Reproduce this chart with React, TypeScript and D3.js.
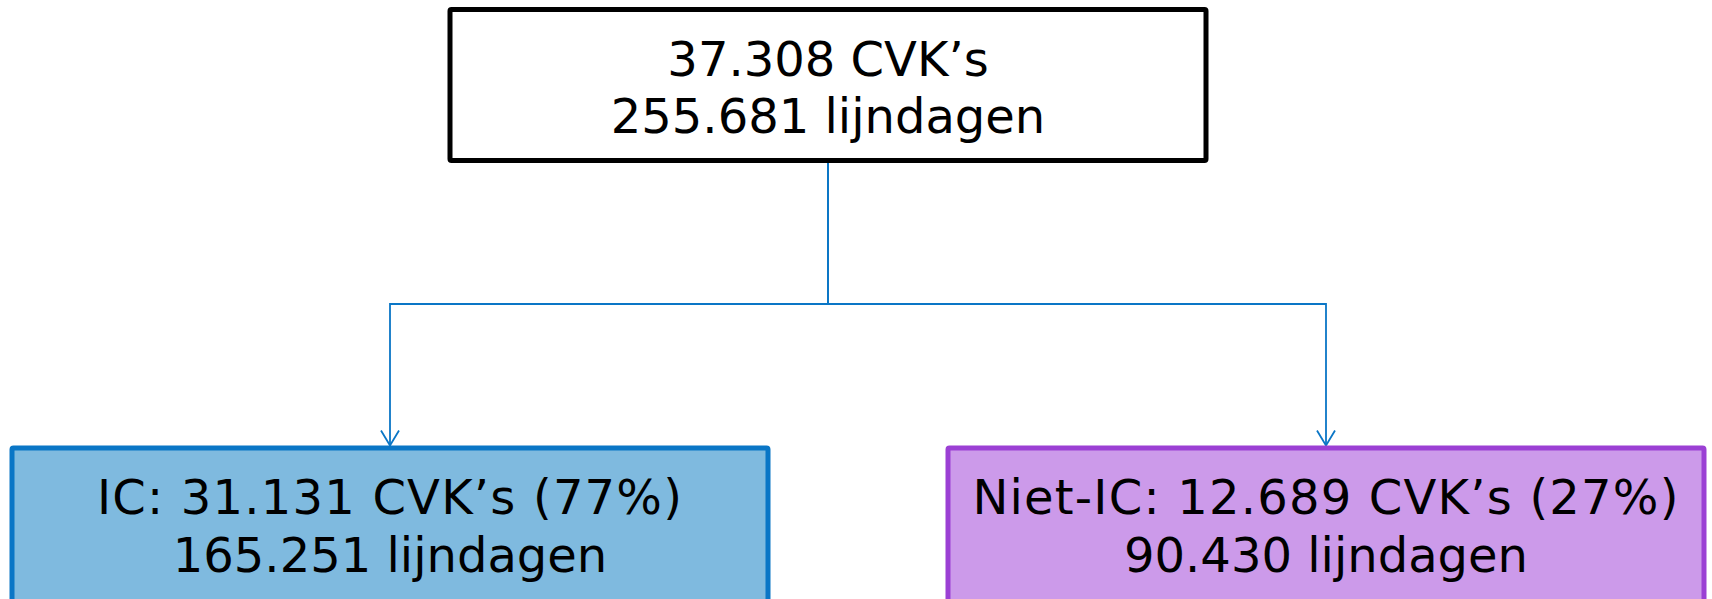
import { useEffect, useRef } from "react";
import * as d3 from "d3";

// node data
const nodeIds = ["totaal", "IC", "Niet-IC"];
const nodePrefixes = ["", "IC: ", "Niet-IC: "];
const cvkCounts = [37308, 31131, 12689];
const lineDays = [255681, 165251, 90430];
const percents = [null, 77, 27];
const parents = [null, "totaal", "totaal"];

const nl = d3.formatLocale({
  decimal: ",",
  thousands: ".",
  grouping: [3],
  currency: ["€", ""],
});
const fmt = nl.format(",d");

interface NodeDatum {
  id: string;
  parent: string | null;
  line1: string;
  line2: string;
}

const nodes: NodeDatum[] = nodeIds.map((id, i) => ({
  id,
  parent: parents[i],
  line1:
    `${nodePrefixes[i]}${fmt(cvkCounts[i])} CVK\u2019s` +
    (percents[i] != null ? ` (${percents[i]}%)` : ""),
  line2: `${fmt(lineDays[i])} lijndagen`,
}));

const styles: Record<string, { fill: string; stroke: string }> = {
  totaal: { fill: "#ffffff", stroke: "#000000" },
  IC: { fill: "#7fbadf", stroke: "#0a76c6" },
  "Niet-IC": { fill: "#cc9aea", stroke: "#9b40d4" },
};

const App = () => {
  const svgRef = useRef<SVGSVGElement | null>(null);

  useEffect(() => {
    if (!svgRef.current) return;
    const svg = d3.select(svgRef.current);
    svg.selectAll("*").remove();

    const width = 1712;
    const height = 599;
    const boxW = 756;
    const rootTop = 9.5;
    const rootH = 151;
    const childTop = 448;
    const childH = 200;
    const elbowY = 304;

    const root = d3
      .stratify<NodeDatum>()
      .id((d) => d.id)
      .parentId((d) => d.parent)(nodes);

    const children = root.children ?? [];
    const xChild = d3
      .scalePoint<string>()
      .domain(children.map((c) => c.id as string))
      .range([390, 1326]);
    const rootX = 828;

    const cx = (n: d3.HierarchyNode<NodeDatum>) =>
      n.depth === 0 ? rootX : (xChild(n.id as string) ?? 0);
    const top = (n: d3.HierarchyNode<NodeDatum>) =>
      n.depth === 0 ? rootTop : childTop;
    const h = (n: d3.HierarchyNode<NodeDatum>) =>
      n.depth === 0 ? rootH : childH;

    // connectors
    const links = svg.append("g").attr("fill", "none").attr("stroke", "#0a76c6");
    root.links().forEach((l) => {
      const sx = cx(l.source);
      const tx = cx(l.target);
      const ty = top(l.target) - 2.5;
      const path = d3.path();
      path.moveTo(sx, top(l.source) + h(l.source));
      path.lineTo(sx, elbowY);
      path.lineTo(tx, elbowY);
      path.lineTo(tx, ty);
      links.append("path").attr("d", path.toString()).attr("stroke-width", 1.8);
      links
        .append("path")
        .attr("d", `M${tx - 9},${ty - 15}L${tx},${ty}L${tx + 9},${ty - 15}`)
        .attr("stroke-width", 1.8);
    });

    // boxes
    const g = svg
      .selectAll("g.node")
      .data(root.descendants())
      .enter()
      .append("g")
      .attr("class", "node");

    g.append("rect")
      .attr("x", (d) => cx(d) - boxW / 2)
      .attr("y", (d) => top(d))
      .attr("width", boxW)
      .attr("height", (d) => h(d))
      .attr("fill", (d) => styles[d.id as string].fill)
      .attr("stroke", (d) => styles[d.id as string].stroke)
      .attr("stroke-width", 5)
      .attr("rx", 1.5);

    g.append("text")
      .attr("x", (d) => cx(d))
      .attr("y", (d) => (d.depth === 0 ? 76 : 514))
      .attr("letter-spacing", (d) => (d.depth === 0 ? 0 : 1.2))
      .text((d) => d.data.line1);
    g.append("text")
      .attr("x", (d) => cx(d))
      .attr("y", (d) => (d.depth === 0 ? 133 : 572))
      .text((d) => d.data.line2);

    g.selectAll("text")
      .attr("text-anchor", "middle")
      .attr("font-family", "'DejaVu Sans', Verdana, sans-serif")
      .attr("font-size", 48)
      .attr("fill", "#000");

    svg.attr("width", width).attr("height", height);
  }, []);

  return (
    <svg
      ref={svgRef}
      width={1712}
      height={599}
      style={{ position: "absolute", left: 0, top: 0, background: "#fff" }}
    ></svg>
  );
};

export default App;
